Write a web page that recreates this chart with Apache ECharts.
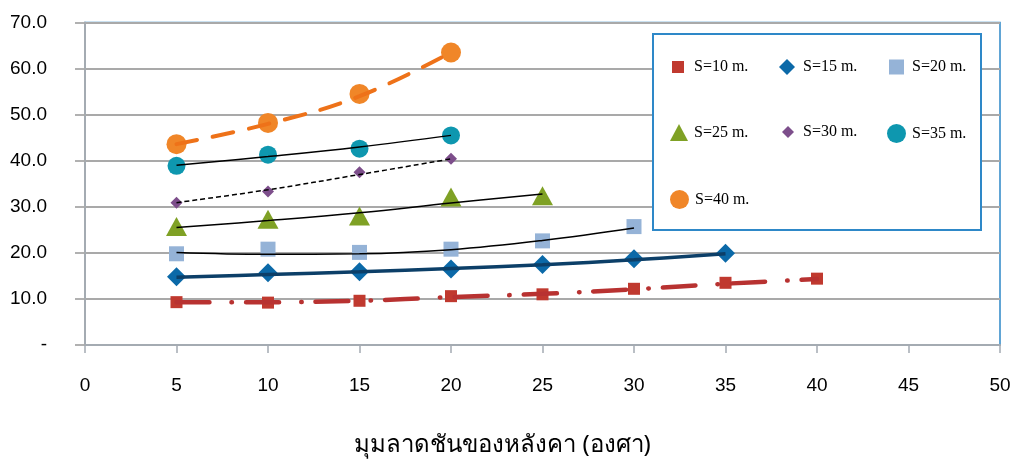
<!DOCTYPE html>
<html>
<head>
<meta charset="utf-8">
<script src="https://cdn.jsdelivr.net/npm/echarts@6/dist/echarts.min.js"></script>
<style>
  html, body { margin: 0; padding: 0; background: #fff; }
  #chart { width: 1016px; height: 463px; }
</style>
</head>
<body>
<div id="chart"></div>
<script>
// Roof slope angle (degrees) on the x axis
const angles = [5, 10, 15, 20, 25, 30, 35, 40];

// Measured values per span S
const s10 = [9.3, 9.2, 9.6, 10.6, 11.0, 12.2, 13.5, 14.4];
const s15 = [14.8, 15.7, 15.9, 16.5, 17.5, 18.7, 19.9];
const s20 = [19.8, 20.8, 20.1, 20.8, 22.6, 25.7];
const s25 = [25.7, 27.3, 28.0, 32.1, 32.4];
const s30 = [30.9, 33.3, 37.5, 40.4];
const s35 = [38.9, 41.3, 42.6, 45.5];
const s40 = [43.6, 48.2, 54.5, 63.5];

// Trend curves per span, sampled at the same angles
const t10 = [9.3, 9.3, 9.6, 10.4, 11.1, 12.1, 13.3, 14.3];
const t15 = [14.7, 15.3, 15.9, 16.6, 17.4, 18.5, 19.8];
const t20 = [20.1, 19.7, 19.8, 20.7, 22.7, 25.4];
const t25 = [25.5, 27.0, 28.7, 30.8, 32.8];
const t30 = [30.9, 33.7, 37.0, 40.4];
const t35 = [39.0, 40.9, 43.0, 45.5];
const t40 = [43.6, 48.0, 54.0, 63.5];

const seriesNames = ['S=10 m.', 'S=15 m.', 'S=20 m.', 'S=25 m.', 'S=30 m.', 'S=35 m.', 'S=40 m.'];
const yTickLabels = ['-', '10.0', '20.0', '30.0', '40.0', '50.0', '60.0', '70.0'];
const xTickLabels = ['0', '5', '10', '15', '20', '25', '30', '35', '40', '45', '50'];
const xAxisTitle = 'มุมลาดชันของหลังคา (องศา)';

const pair = vals => vals.map((v, i) => [angles[i], v]);

const markerDefs = [
  { data: s10, symbol: 'rect',     size: 12,       color: '#C0392F' },
  { data: s15, symbol: 'diamond',  size: [19, 19], color: '#0B69A8' },
  { data: s20, symbol: 'rect',     size: 15,       color: '#95B3D7' },
  { data: s25, symbol: 'triangle', size: [21, 19], color: '#7FA125' },
  { data: s30, symbol: 'diamond',  size: [12, 12], color: '#7D4E8B' },
  { data: s35, symbol: 'circle',   size: 18,       color: '#0E97AF' },
  { data: s40, symbol: 'circle',   size: 20,       color: '#F08628' }
];

const trendDefs = [
  { data: t10, color: '#B83231', width: 4.5, type: [33, 22, 0.5, 14], cap: 'round' },
  { data: t15, color: '#0C3F68', width: 3.5, type: 'solid',           cap: 'butt' },
  { data: t20, color: '#000000', width: 1.5, type: 'solid',           cap: 'butt' },
  { data: t25, color: '#000000', width: 1.5, type: 'solid',           cap: 'butt' },
  { data: t30, color: '#000000', width: 1.5, type: [5, 3],            cap: 'butt' },
  { data: t35, color: '#000000', width: 1.5, type: 'solid',           cap: 'butt' },
  { data: t40, color: '#EE7219', width: 4,   type: [21, 16],          cap: 'round' }
];

const series = [];
markerDefs.forEach((m, i) => {
  series.push({
    name: seriesNames[i],
    type: 'scatter',
    data: pair(m.data),
    symbol: m.symbol,
    symbolSize: m.size,
    itemStyle: { color: m.color, opacity: 1 },
    z: 2,
    silent: true
  });
});
trendDefs.forEach((t, i) => {
  series.push({
    name: 'trend ' + seriesNames[i],
    type: 'line',
    data: pair(t.data),
    smooth: 0.4,
    showSymbol: false,
    symbol: 'none',
    lineStyle: { color: t.color, width: t.width, type: t.type, cap: t.cap },
    z: 3,
    silent: true
  });
});

// Legend layout: three columns, three rows inside a framed box
const legendCells = [
  { left: 672, row: 67,  w: 12, h: 12, gap: 10 },
  { left: 779, row: 67,  w: 16, h: 16, gap: 8 },
  { left: 889, row: 67,  w: 15, h: 15, gap: 8 },
  { left: 670, row: 132, w: 18, h: 17, gap: 6 },
  { left: 782, row: 132, w: 12, h: 12, gap: 9 },
  { left: 887, row: 132, w: 19, h: 19, gap: 6 },
  { left: 670, row: 198, w: 19, h: 19, gap: 6 }
];
const legends = legendCells.map((c, i) => ({
  show: true,
  data: [seriesNames[i]],
  left: c.left,
  top: c.row - 8,
  itemWidth: c.w,
  itemHeight: c.h,
  padding: 0,
  selectedMode: false,
  z: 10,
  textStyle: {
    fontFamily: 'Liberation Serif',
    fontSize: 16,
    color: '#000',
    padding: [0, 0, 0, c.gap - 5]
  }
}));

const chart = echarts.init(document.getElementById('chart'), null, { renderer: 'canvas' });
chart.setOption({
  animation: false,
  backgroundColor: '#ffffff',
  grid: {
    left: 85, right: 16, top: 22.5, bottom: 118,
    show: true, borderColor: '#2E88C8', borderWidth: 1.5, backgroundColor: 'transparent'
  },
  xAxis: {
    type: 'value', min: 0, max: 50, interval: 5,
    name: xAxisTitle, nameLocation: 'middle', nameGap: 88,
    nameTextStyle: {
      fontFamily: 'Noto Sans, sans-serif', fontSize: 24, color: '#000',
      padding: [0, 80, 0, 0]
    },
    axisLine: { show: true, lineStyle: { color: '#A4ABB2', width: 2 } },
    axisTick: { show: true, length: 8, lineStyle: { color: '#A4ABB2', width: 1.5 } },
    splitLine: { show: false },
    axisLabel: {
      margin: 31, fontFamily: 'Liberation Sans', fontSize: 19, color: '#000',
      formatter: v => xTickLabels[Math.round(v / 5)]
    }
  },
  yAxis: {
    type: 'value', min: 0, max: 70, interval: 10,
    axisLine: { show: true, lineStyle: { color: '#A4ABB2', width: 2 } },
    axisTick: { show: true, length: 10, lineStyle: { color: '#A9A9A9', width: 1.8 } },
    splitLine: { show: true, lineStyle: { color: '#A9A9A9', width: 1.8 } },
    axisLabel: {
      margin: 38, fontFamily: 'Liberation Sans', fontSize: 19, color: '#000',
      formatter: v => yTickLabels[Math.round(v / 10)]
    }
  },
  legend: legends,
  graphic: [{
    type: 'rect',
    shape: { x: 653, y: 34, width: 328, height: 196 },
    style: { fill: '#ffffff', stroke: '#2E88C8', lineWidth: 2 },
    z: 5,
    silent: true
  }],
  series: series
});
</script>
</body>
</html>
